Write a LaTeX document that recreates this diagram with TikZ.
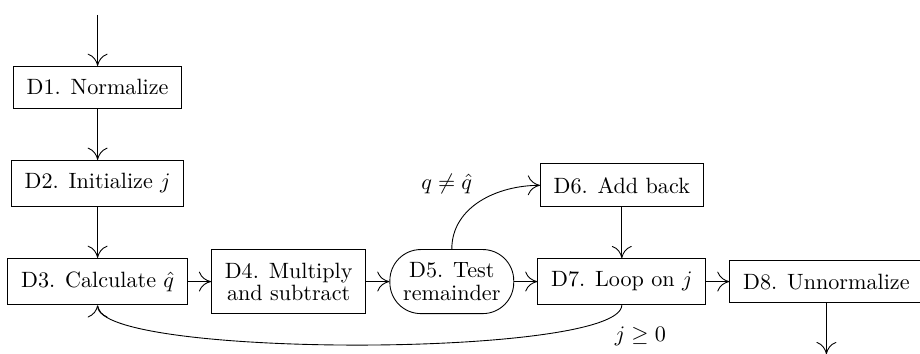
\documentclass[tikz,border=0pt]{standalone}
\usepackage{amsmath}
\usepackage{amssymb}
\usetikzlibrary{positioning, arrows.meta}

\begin{document}
\begin{tikzpicture}[
    >={To[length=5.5pt,width=9pt]}, % open arrow heads, a bit larger than the default
    node distance=23pt and 10.5pt, % Defines separation distance (vertical and horizontal)
    stepbox/.style={draw, inner sep=6pt, align=center},
    testbox/.style={stepbox, rounded corners=14pt}
]
    \useasboundingbox (-44.1pt,-32.7pt) rectangle (371.5pt,127.2pt);

    % 1. Define the nodes using explicit positioning
    \node[stepbox] (D3) {D3. Calculate $\hat{q}$};
    % D2 and D1 are stacked above D3
    \node[stepbox] (D2) [above=of D3] {D2. Initialize $j$};
    \node[stepbox] (D1) [above=of D2] {D1. Normalize};
    % the main row runs to the right of D3
    \node[stepbox] (D4) [right=of D3] {D4. Multiply\\[-2pt]and subtract};
    \node[testbox] (D5) [right=of D4] {D5. Test\\[-2pt]remainder};
    \node[stepbox] (D7) [right=of D5] {D7. Loop on $j$};
    \node[stepbox] (D8) [right=of D7] {D8. Unnormalize};
    % D6 is above D7
    \node[stepbox] (D6) [above=of D7] {D6. Add back};
    % entry and exit of the algorithm
    \coordinate[above=of D1] (start);
    \coordinate[below=of D8] (stop);

    % 2. Draw the arrows

    % straight steps
    \draw[->] (start) -- (D1);
    \draw[->] (D1) -- (D2);
    \draw[->] (D2) -- (D3);
    \draw[->] (D3) -- (D4);
    \draw[->] (D4) -- (D5);
    \draw[->] (D5) -- (D7);
    \draw[->] (D6) -- (D7);
    \draw[->] (D7) -- (D8);
    \draw[->] (D8) -- (stop);

    % D5 -> D6 (branch when the test fails)
    \draw[->] (D5.north) to[out=90, in=180]
        node[midway, above left] {$q \neq \hat{q}$} (D6.west);

    % D7 -> D3 (the loop back)
    \draw[->] (D7.south) .. controls +(0,-24pt) and +(0,-24pt) .. (D3.south)
        node[pos=0.1, below right] {$j \geq 0$};

\end{tikzpicture}
\end{document}
